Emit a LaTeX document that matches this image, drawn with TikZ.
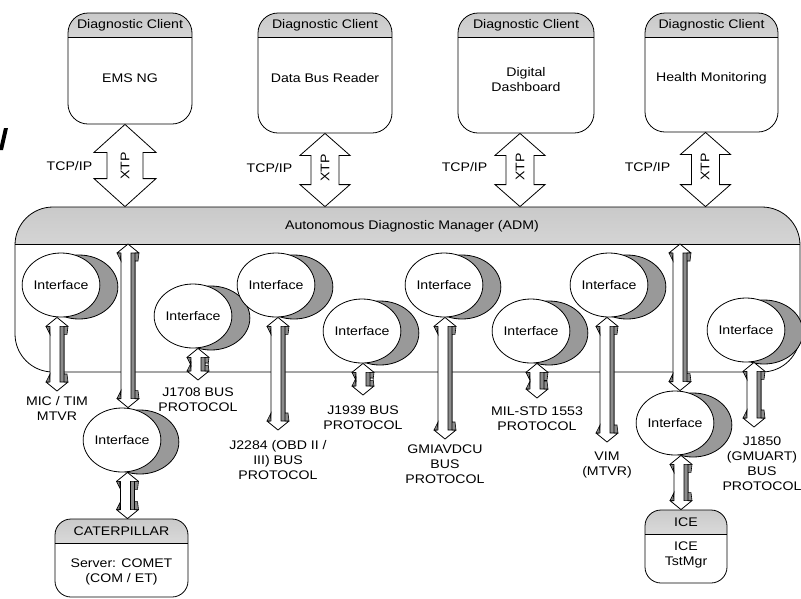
\documentclass[tikz,border=0pt]{standalone}
\usepackage{fontspec}
\setmainfont{Liberation Sans}[FakeStretch=1.13]
\usepackage{tikz}
\usetikzlibrary{positioning,calc,shapes.geometric,shadows}

% 3D double arrow: y from #1 (top) and #2 (bottom), x from #2
\newcommand{\iolink}[2]{%
  \draw[iolink] let \p1=(#1), \p2=(#2) in
    (\x2,\y1) -- (\x2+11pt,\y1-9pt) -- (\x2+7pt,\y1-9pt) -- (\x2+7pt,\y2+9pt)
    -- (\x2+11pt,\y2+9pt) -- (\x2,\y2) -- (\x2-11pt,\y2+9pt) -- (\x2-7pt,\y2+9pt)
    -- (\x2-7pt,\y1-9pt) -- (\x2-11pt,\y1-9pt) -- cycle;
  \draw[iofin] let \p1=(#1), \p2=(#2) in
    (\x2+3pt,\y1-9pt) rectangle (\x2+7pt,\y2+9pt)
    (\x2-11pt,\y1-9pt) -- (\x2-8pt,\y1-9pt) -- (\x2-7pt,\y1-17pt) -- cycle
    (\x2+7pt,\y1-9pt) -- (\x2+11pt,\y1-9pt) -- (\x2+10pt,\y1-17pt) -- (\x2+7pt,\y1-17pt) -- cycle
    (\x2-11pt,\y2+9pt) -- (\x2-8pt,\y2+9pt) -- (\x2-7pt,\y2+17pt) -- cycle
    (\x2+7pt,\y2+9pt) -- (\x2+11pt,\y2+9pt) -- (\x2+10pt,\y2+17pt) -- (\x2+7pt,\y2+17pt) -- cycle;
}
% flat double arrow: #1 top, #2 bottom, #3 head, #4 shaft (half widths), #5 head length
\newcommand{\xtplink}[5]{%
  \draw[xtpline] let \p1=(#1), \p2=(#2) in
    (\x1,\y1) -- (\x1+#3pt,\y1-#5pt) -- (\x1+#4pt,\y1-#5pt) -- (\x1+#4pt,\y2+#5pt)
    -- (\x1+#3pt,\y2+#5pt) -- (\x1,\y2) -- (\x1-#3pt,\y2+#5pt) -- (\x1-#4pt,\y2+#5pt)
    -- (\x1-#4pt,\y1-#5pt) -- (\x1-#3pt,\y1-#5pt) -- cycle;
}

\begin{document}
\begin{tikzpicture}[
    x=1pt, y=-1pt,
    line width=0.8pt,
    every node/.style={font=\fontsize{12.5}{15}\selectfont},
    client/.style={
      draw,
      fill=white,
      rounded corners=20pt,
      inner sep=0pt,
      path picture={
        \shade[sharp corners, top color=gray!42, bottom color=gray!3]
          (path picture bounding box.north west) rectangle ([yshift=-#1pt]path picture bounding box.north east);
        \draw[sharp corners] ([yshift=-#1pt]path picture bounding box.north west)
          -- ([yshift=-#1pt]path picture bounding box.north east);
      }
    },
    client/.default=24,
    iface/.style={
      ellipse,
      draw,
      fill=white,
      minimum width=72pt,
      minimum height=64pt,
      inner sep=0pt,
      drop shadow={shadow xshift=18pt, shadow yshift=-2pt, opacity=1, fill=black!40, draw=black}
    },
    lbl/.style={align=center, inner sep=2pt, anchor=north},
    iolink/.style={draw, fill=white, line join=round},
    iofin/.style={draw, fill=black!45, line width=0.6pt},
    xtpline/.style={draw, fill=white}
]
    \useasboundingbox (0,0) rectangle (801,598);

    % left edge remnant
    \fill (4,128) -- (8,128) -- (3,150) -- (-1,150) -- cycle;

    % Diagnostic clients
    \node[client, minimum width=124pt, minimum height=111pt] (ems) at (130,68.5) {};
    \node (emshead) at (130,25) {Diagnostic Client};
    \node (emsbody) at (130,78) {EMS NG};
    \node[client, minimum width=134pt, minimum height=120pt] (dbr) at (325,73) {};
    \node (dbrhead) at (325,25) {Diagnostic Client};
    \node (dbrbody) at (325,78) {Data Bus Reader};
    \node[client, minimum width=136pt, minimum height=120pt] (dash) at (526,73) {};
    \node (dashhead) at (526,25) {Diagnostic Client};
    \node[align=center] (dashbody) at (526,80) {Digital\\Dashboard};
    \node[client, minimum width=133pt, minimum height=119pt] (health) at (711.5,72.5) {};
    \node (healthhead) at (711.5,25) {Diagnostic Client};
    \node (healthbody) at (711.5,78) {Health Monitoring};

    % Manager
    \node[client=37, rounded corners=38pt, minimum width=785pt, minimum height=165pt] (adm) at (407.5,289.5) {};
    \node (admhead) at (412,226) {Autonomous Diagnostic Manager (ADM)};
    \coordinate (admbar) at (0,244);

    % Links to clients
    \xtplink{[xshift=-5pt]ems.south}{adm.north}{31}{18}{28}
    \xtplink{dbr.south}{adm.north}{25}{14}{22}
    \xtplink{[xshift=-6pt]dash.south}{adm.north}{25}{14}{22}
    \xtplink{[xshift=-6pt]health.south}{adm.north}{25}{14}{22}
    \node[anchor=east] (tcp1) at (96,166) {TCP/IP};
    \node[anchor=east] (tcp2) at (296,168) {TCP/IP};
    \node[anchor=east] (tcp3) at (491,167) {TCP/IP};
    \node[anchor=east] (tcp4) at (674,167) {TCP/IP};
    \node[rotate=90] (xtp1) at (125,166) {XTP};
    \node[rotate=90] (xtp2) at (325,168) {XTP};
    \node[rotate=90] (xtp3) at (520,167) {XTP};
    \node[rotate=90] (xtp4) at (705,167) {XTP};

    % Interfaces
    \node[iface] (mic) at (61,285) {Interface};
    \node[iface] (jseven) at (193,316) {Interface};
    \node[iface] (obd) at (276,285) {Interface};
    \node[iface] (jnine) at (362,331) {Interface};
    \node[iface] (gmia) at (444,285) {Interface};
    \node[iface] (mil) at (531,331) {Interface};
    \node[iface] (vim) at (609,285) {Interface};
    \node[iface] (jeight) at (746,330) {Interface};
    \node[iface] (catif) at (122,440) {Interface};
    \node[iface] (iceif) at (675,423) {Interface};

    % Bus labels
    \node[lbl] (miclbl) at (57,394) {MIC / TIM\\MTVR};
    \node[lbl] (jsevenlbl) at (198,385) {J1708 BUS\\PROTOCOL};
    \node[lbl] (obdlbl) at (278,438) {J2284 (OBD II /\\III) BUS\\PROTOCOL};
    \node[lbl] (jninelbl) at (363,403) {J1939 BUS\\PROTOCOL};
    \node[lbl] (gmialbl) at (445,442) {GMIAVDCU\\BUS\\PROTOCOL};
    \node[lbl] (millbl) at (537,404) {MIL-STD 1553\\PROTOCOL};
    \node[lbl] (vimlbl) at (607,449) {VIM\\(MTVR)};
    \node[lbl] (jeightlbl) at (762,434) {J1850\\(GMUART)\\BUS\\PROTOCOL};

    % Servers
    \node[client, rounded corners=16pt, minimum width=133pt, minimum height=78pt] (cat) at (121.5,558) {};
    \node (cathead) at (121.5,531) {CATERPILLAR};
    \node[align=center] (catbody) at (121.5,572) {Server: COMET\\(COM / ET)};
    \node[client, rounded corners=16pt, minimum width=82pt, minimum height=73pt] (ice) at (686,546.5) {};
    \node (icehead) at (686,522) {ICE};
    \node[align=center] (icebody) at (686,555) {ICE\\TstMgr};

    % Edges
    \iolink{admbar}{[xshift=6pt]catif.north}
    \iolink{admbar}{[xshift=5pt]iceif.north}
    \iolink{mic.south}{[yshift=3pt]miclbl.north}
    \iolink{jseven.south}{[yshift=5pt]jsevenlbl.north}
    \iolink{obd.south}{[yshift=8pt]obdlbl.north}
    \iolink{jnine.south}{[yshift=8pt]jninelbl.north}
    \iolink{gmia.south}{[yshift=3pt]gmialbl.north}
    \iolink{mil.south}{[yshift=6pt]millbl.north}
    \iolink{vim.south}{[yshift=7pt]vimlbl.north}
    \iolink{jeight.south}{[xshift=-8pt,yshift=7pt]jeightlbl.north}
    \iolink{catif.south}{[xshift=6pt]cat.north}
    \iolink{iceif.south}{[xshift=-5pt]ice.north}

\end{tikzpicture}
\end{document}
